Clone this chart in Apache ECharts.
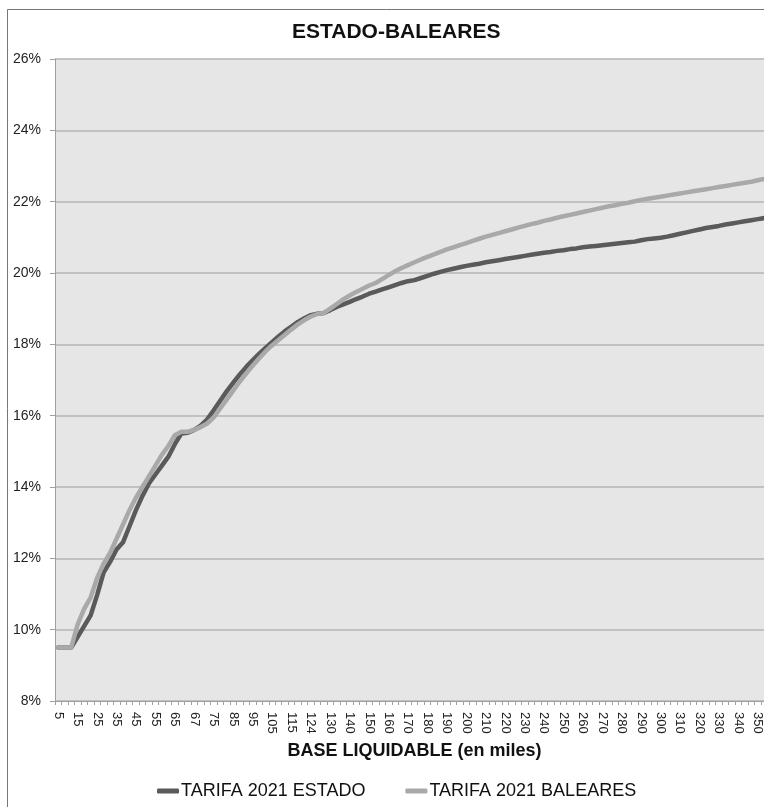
<!DOCTYPE html>
<html>
<head>
<meta charset="utf-8">
<script src="https://cdn.jsdelivr.net/npm/echarts@6/dist/echarts.min.js"></script>
<style>
html,body{margin:0;padding:0;background:#fff;}
#chart{width:764px;height:807px;}
</style>
</head>
<body>
<div id="chart"></div>
<script>
var titleText = 'ESTADO-BALEARES';
var xAxisName = 'BASE LIQUIDABLE (en miles)';
var seriesNames = ['TARIFA 2021 ESTADO', 'TARIFA 2021 BALEARES'];
var yTicks = [8, 10, 12, 14, 16, 18, 20, 22, 24, 26];

var categories = ['5','8','12','15','18','22','25','28','32','35','38','42','45','48','52','55','58','62','65','65.7','66.3','67','70','72','75','78','82','85','88','92','95','98','102','105','108','112','115','118','121','124','126','128',
'130','133','137','140','143','147','150','153','157','160','163','167','170','173','177','180','183','187','190','193','197','200','203','207','210','213','217','220','223','227','230','233','237','240','243','247','250','253','257','260','263','267','270','273','277','280','283','287','290','293','297','300','303','307','310','313','317','320','323','327','330','333','337','340','343','347','350','353','357'];

var estado = [9.5,9.5,9.5,9.8,10.1,10.4,10.97,11.6,11.9,12.25,12.45,12.9,13.35,13.75,14.1,14.35,14.6,14.85,15.2,15.5,15.52,15.6,15.72,15.9,16.15,16.42,16.68,16.92,17.15,17.36,17.55,17.73,17.9,18.06,18.22,18.37,18.5,18.63,18.73,18.82,18.86,18.88,18.96,19.05,19.12,19.19,19.27,19.34,19.42,19.48,19.54,19.6,19.66,19.72,19.77,19.8,19.86,19.92,19.98,20.03,20.08,20.12,20.16,20.2,20.23,20.26,20.3,20.33,20.36,20.39,20.42,20.45,20.48,20.51,20.54,20.57,20.59,20.62,20.64,20.67,20.69,20.72,20.74,20.76,20.78,20.8,20.82,20.84,20.86,20.88,20.92,20.95,20.97,20.99,21.02,21.06,21.1,21.14,21.18,21.22,21.26,21.29,21.32,21.36,21.39,21.42,21.45,21.48,21.51,21.54,21.57];

var baleares = [9.5,9.5,9.5,10.15,10.58,10.9,11.45,11.85,12.15,12.55,12.95,13.35,13.7,14.0,14.3,14.6,14.9,15.15,15.45,15.55,15.55,15.6,15.68,15.78,15.95,16.2,16.45,16.7,16.95,17.18,17.4,17.6,17.8,17.97,18.12,18.27,18.42,18.56,18.68,18.78,18.85,18.88,19.0,19.13,19.26,19.37,19.47,19.56,19.65,19.72,19.83,19.94,20.05,20.14,20.22,20.3,20.38,20.45,20.52,20.59,20.66,20.72,20.78,20.84,20.9,20.96,21.02,21.07,21.12,21.17,21.22,21.27,21.32,21.37,21.41,21.46,21.5,21.55,21.59,21.63,21.67,21.71,21.75,21.79,21.83,21.87,21.9,21.94,21.97,22.01,22.05,22.08,22.11,22.14,22.17,22.2,22.23,22.26,22.29,22.32,22.35,22.38,22.41,22.44,22.47,22.5,22.53,22.56,22.6,22.64,22.68];

var FONT = '"Liberation Sans", Arial, sans-serif';
var chart = echarts.init(document.getElementById('chart'), null, {renderer: 'canvas'});
chart.setOption({
  animation: false,
  backgroundColor: '#ffffff',
  textStyle: {fontFamily: FONT},
  graphic: [{
    type: 'rect', left: 5, top: 7, z: -10,
    shape: {width: 800, height: 820},
    style: {fill: 'none', stroke: '#777777', lineWidth: 1}
  }],
  title: {
    text: titleText, left: 287, top: 17,
    textStyle: {fontFamily: FONT, fontWeight: 'bold', fontSize: 21, color: '#111'}
  },
  legend: {
    data: seriesNames, left: 152, top: 777, itemGap: 40,
    icon: 'roundRect', itemWidth: 22, itemHeight: 5,
    textStyle: {fontFamily: FONT, fontSize: 18, color: '#111', padding: [0,0,0,-3]}
  },
  grid: {
    left: 55, right: -10, top: 59, bottom: 106,
    show: true, backgroundColor: '#e6e6e6', borderWidth: 0,
    outerBoundsMode: 'none'
  },
  xAxis: {
    type: 'category', data: categories, boundaryGap: true,
    name: xAxisName, nameLocation: 'middle', nameGap: 37,
    nameTextStyle: {fontFamily: FONT, fontWeight: 'bold', fontSize: 18, color: '#111'},
    axisLine: {show: true, lineStyle: {color: '#a0a0a0', width: 1}},
    axisTick: {show: true, interval: 0, length: 4, lineStyle: {color: '#a0a0a0'}},
    axisLabel: {interval: 2, rotate: -90, margin: 11, fontFamily: FONT, fontSize: 13, color: '#222'},
    splitLine: {show: false}
  },
  yAxis: {
    type: 'value', min: yTicks[0], max: yTicks[yTicks.length-1], interval: 2,
    axisLine: {show: true, lineStyle: {color: '#a0a0a0', width: 1}},
    axisTick: {show: true, length: 5, lineStyle: {color: '#a0a0a0'}},
    axisLabel: {formatter: '{value}%', margin: 14, fontFamily: FONT, fontSize: 14, color: '#222'},
    splitLine: {show: true, lineStyle: {color: '#b4b4b4', width: 1.5}}
  },
  series: [{
    name: seriesNames[0], type: 'line', data: estado, showSymbol: false, symbol: 'none',
    lineStyle: {color: '#5a5a5a', width: 4.5, cap: 'round', join: 'round'},
    itemStyle: {color: '#5a5a5a'}, z: 2
  }, {
    name: seriesNames[1], type: 'line', data: baleares, showSymbol: false, symbol: 'none',
    lineStyle: {color: '#a9a9a9', width: 4.5, cap: 'round', join: 'round'},
    itemStyle: {color: '#a9a9a9'}, z: 3
  }]
});
</script>
</body>
</html>
